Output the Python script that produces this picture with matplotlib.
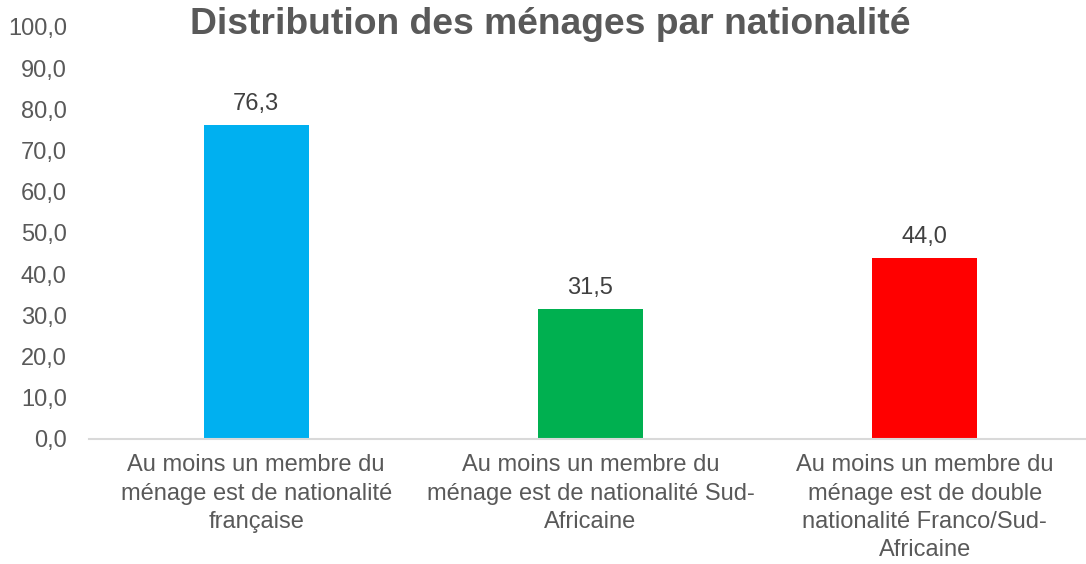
import matplotlib
matplotlib.use("Agg")
import matplotlib.pyplot as plt
from matplotlib.ticker import FuncFormatter

categories = [
    "Au moins un membre du\nménage est de nationalité\nfrançaise",
    "Au moins un membre du\nménage est de nationalité Sud-\nAfricaine",
    "Au moins un membre du\nménage est de double\nnationalité Franco/Sud-\nAfricaine",
]
values = [76.3, 31.5, 44.0]
colors = ["#00B0F0", "#00B050", "#FF0000"]
title = "Distribution des ménages par nationalité"

plt.rcParams['font.family'] = ['Liberation Sans', 'DejaVu Sans']

fig = plt.figure(figsize=(10.86, 5.64), dpi=100)
ax = fig.add_axes([89/1086, 125/564, 1003/1086, 412/564])

x = list(range(len(values)))
bars = ax.bar(x, values, width=0.314, color=colors)
ax.set_xlim(-0.5, 2.5)
ax.set_ylim(0, 100)
ax.set_yticks(range(0, 101, 10))
ax.yaxis.set_major_formatter(FuncFormatter(lambda v, p: f"{v:.1f}".replace(".", ",")))
ax.set_xticks(x)
ax.set_xticklabels(categories, linespacing=1.37)
ax.tick_params(axis='y', length=0, pad=16, labelsize=17, labelcolor="#595959")
ax.tick_params(axis='x', length=0, pad=11, labelsize=17, labelcolor="#595959")
for s in ["top", "right", "left"]:
    ax.spines[s].set_visible(False)
ax.spines["bottom"].set_color("#D9D9D9")
ax.spines["bottom"].set_linewidth(1.5)

for xi, v in zip(x, values):
    ax.annotate(f"{v:.1f}".replace(".", ","), (xi, v), xytext=(0, 7), textcoords="offset points",
                ha="center", va="bottom", fontsize=17, color="#404040")

fig.text(550/1086, 1 - 24/564, title, ha="center", va="center", fontsize=26.8, fontweight="bold", color="#595959")

fig.savefig("out.png", dpi=100)
